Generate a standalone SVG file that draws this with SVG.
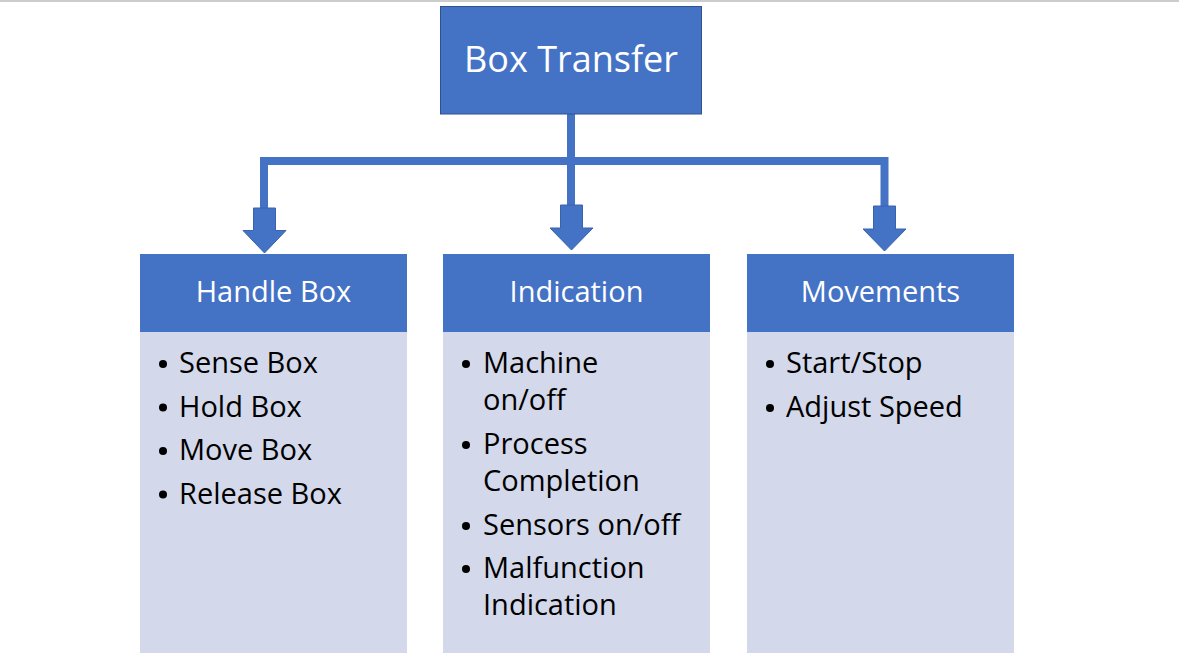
<svg xmlns="http://www.w3.org/2000/svg" width="1179" height="663" viewBox="0 0 1179 663">
<style>
.hdr{fill:#4472C4}
.body{fill:#D3D8EA}
.title{font-family:"Open Sans","Noto Sans",sans-serif;fill:#fff;text-anchor:middle}
.item{font-family:"Open Sans","Noto Sans",sans-serif;font-size:29px;fill:#000}
.line{fill:#4472C4}
.arrow{fill:#4472C4;stroke:#3A63AD;stroke-width:1}
</style>
<rect x="0" y="0" width="1179" height="663" fill="#fff"/>
<rect x="0" y="0" width="1179" height="2" fill="#cccccc"/>
<g id="connectors">
<rect class="line" x="567" y="113" width="8" height="95"/>
<rect class="line" x="260" y="157" width="628" height="8"/>
<rect class="line" x="260" y="157" width="8" height="53"/>
<rect class="line" x="880.500" y="157" width="8" height="51"/>
<path class="arrow" d="M253.500,208 H275.500 V230.500 H286 L264.500,253 L243,230.500 H253.500 Z"/>
<path class="arrow" d="M560.500,205 H582.500 V228 H593 L571.500,250 L550,228 H560.500 Z"/>
<path class="arrow" d="M873.500,206 H895.500 V229 H906 L884.500,251 L863,229 H873.500 Z"/>
</g>
<g id="box-transfer">
<rect x="440.500" y="6.500" width="261" height="107.500" fill="#4472C4" stroke="#2F528F" stroke-width="1"/>
<text class="title" x="571" y="72" font-size="36">Box Transfer</text>
</g>
<g id="handle-box">
<rect class="hdr" x="140" y="254" width="267" height="78"/>
<rect class="body" x="140" y="332" width="267" height="321"/>
<text class="title" x="273.500" y="302" font-size="29">Handle Box</text>
<circle cx="163" cy="364" r="4"/><text class="item" x="179" y="373">Sense Box</text>
<circle cx="163" cy="407.500" r="4"/><text class="item" x="179" y="416.500">Hold Box</text>
<circle cx="163" cy="451" r="4"/><text class="item" x="179" y="460">Move Box</text>
<circle cx="163" cy="494.500" r="4"/><text class="item" x="179" y="503.500">Release Box</text>
</g>
<g id="indication">
<rect class="hdr" x="443" y="254" width="267" height="78"/>
<rect class="body" x="443" y="332" width="267" height="321"/>
<text class="title" x="576.500" y="302" font-size="29">Indication</text>
<circle cx="466" cy="364" r="4"/><text class="item" x="483" y="373">Machine</text>
<text class="item" x="483" y="410">on/off</text>
<circle cx="466" cy="445" r="4"/><text class="item" x="483" y="454">Process</text>
<text class="item" x="483" y="491">Completion</text>
<circle cx="466" cy="526" r="4"/><text class="item" x="483" y="535">Sensors on/off</text>
<circle cx="466" cy="569" r="4"/><text class="item" x="483" y="578">Malfunction</text>
<text class="item" x="483" y="615">Indication</text>
</g>
<g id="movements">
<rect class="hdr" x="747" y="254" width="267" height="78"/>
<rect class="body" x="747" y="332" width="267" height="321"/>
<text class="title" x="880.500" y="302" font-size="29">Movements</text>
<circle cx="770" cy="364" r="4"/><text class="item" x="786" y="373">Start/Stop</text>
<circle cx="770" cy="408" r="4"/><text class="item" x="786" y="417">Adjust Speed</text>
</g>
</svg>
